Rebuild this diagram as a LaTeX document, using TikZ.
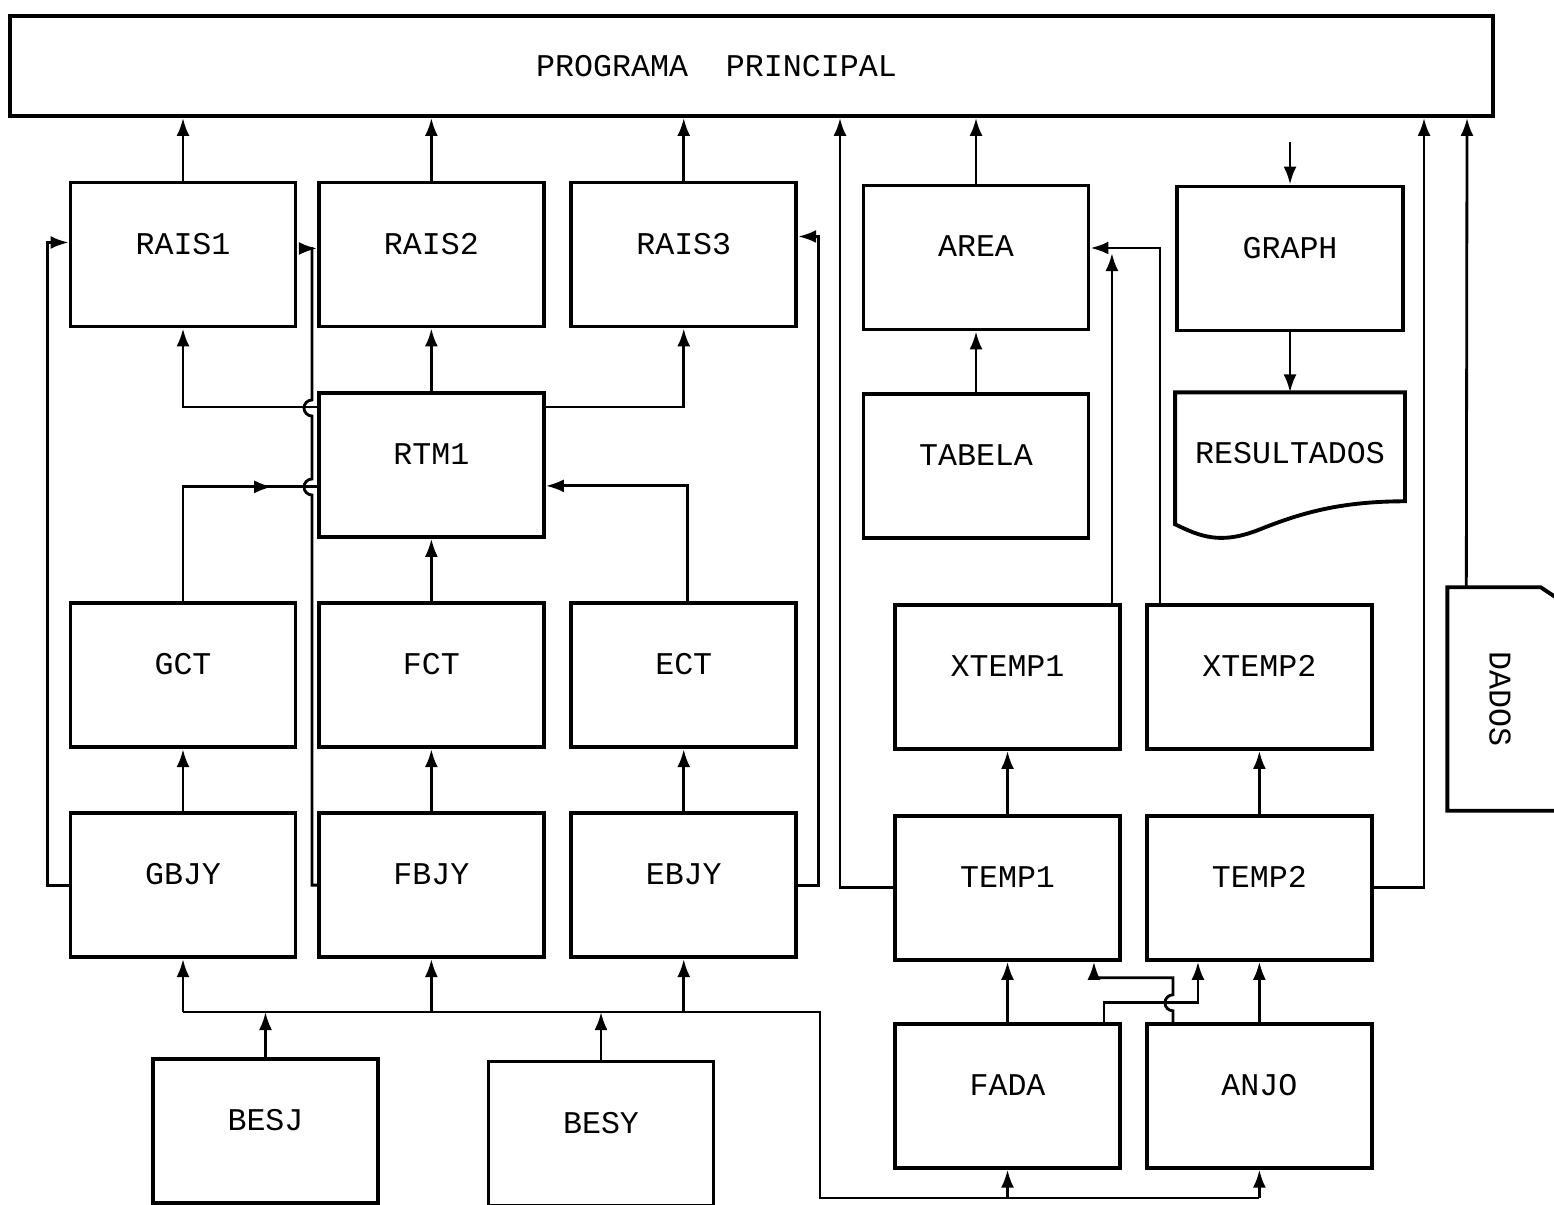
\documentclass[tikz,border=0pt]{standalone}
\usepackage{fontspec}
\setmonofont{Liberation Mono}
\usetikzlibrary{arrows.meta, positioning, decorations.markings}

\begin{document}
\begin{tikzpicture}[
    blk/.style={rectangle, draw, line width=1.1pt, minimum width=2.25cm,
                minimum height=1.44cm, text depth=0.22cm,
                font=\ttfamily\fontsize{9}{11}\selectfont},
    arr/.style={-{Latex[length=1.8mm, width=1.3mm]}, line width=0.8pt},
    wire/.style={line width=0.8pt},
    midarr/.style={wire, decoration={markings,
                   mark=at position #1 with {\arrow{Latex[length=1.8mm, width=1.3mm]}}},
                   postaction={decorate}}
  ]
    \useasboundingbox (0,0) rectangle (15.54,-12.05);

    % main program
    \node[blk, minimum width=14.83cm, minimum height=1.00cm, text depth=0pt] (pp) at (7.515,-0.66)
         {PROGRAMA\ \ PRINCIPAL\hspace*{0.7cm}};

    % left block
    \node[blk] (rais1) at (1.83,-2.545) {RAIS1};
    \node[blk, right=0.195cm of rais1] (rais2) {RAIS2};
    \node[blk, right=0.235cm of rais2] (rais3) {RAIS3};
    \node[blk, below=0.625cm of rais2] (rtm1) {RTM1};
    \node[blk, below=0.625cm of rtm1]  (fct)  {FCT};
    \node[blk, left=0.195cm of fct]    (gct)  {GCT};
    \node[blk, right=0.235cm of fct]   (ect)  {ECT};
    \node[blk, below=0.62cm of gct]    (gbjy) {GBJY};
    \node[blk, below=0.62cm of fct]    (fbjy) {FBJY};
    \node[blk, below=0.62cm of ect]    (ebjy) {EBJY};
    \node[blk] (besj) at (2.655,-11.31) {BESJ};
    \node[blk] (besy) at (6.01,-11.335) {BESY};

    % right block
    \node[blk] (area) at (9.76,-2.575) {AREA};
    \node[blk, below=0.61cm of area] (tabela) {TABELA};
    \node[blk, minimum width=2.26cm] (graph) at (12.90,-2.585) {GRAPH};
    \node[blk, draw=none, minimum width=2.26cm, minimum height=1.40cm,
          below=0.60cm of graph] (res) {RESULTADOS};
    \node[blk] (xtemp1) at (10.075,-6.77) {XTEMP1};
    \node[blk, right=0.23cm of xtemp1] (xtemp2) {XTEMP2};
    \node[blk, below=0.63cm of xtemp1] (temp1) {TEMP1};
    \node[blk, below=0.63cm of xtemp2] (temp2) {TEMP2};
    \node[blk, below=0.60cm of temp1]  (fada)  {FADA};
    \node[blk, below=0.60cm of temp2]  (anjo)  {ANJO};
    \node[minimum width=1.04cm, minimum height=2.22cm, font=\ttfamily\fontsize{9}{11}\selectfont]
         (dados) at (15.00,-6.99) {\rotatebox{-90}{DADOS}};

    % document and card outlines
    \draw[line width=1.1pt] (res.north west) -- (res.north east) -- ([yshift=0.35cm]res.south east)
        .. controls +(-0.65,0) and +(0.4,0.16) .. ([xshift=0.85cm, yshift=0.07cm]res.south west)
        .. controls +(-0.4,-0.16) and +(0.25,-0.12) .. ([yshift=0.12cm]res.south west) -- cycle;
    \draw[line width=1.1pt] (dados.south west) -- (dados.north west) -- ([xshift=-0.12cm]dados.north east)
        -- ([xshift=0.12cm, yshift=-0.16cm]dados.north east) -- ([xshift=0.12cm]dados.south east) -- cycle;

    % up to the main program
    \foreach \n in {rais1, rais2, rais3, area}
      \draw[arr] (\n.north) -- (\n.north |- pp.south);
    \draw[arr, shorten <=0.24cm] (graph.north |- pp.south) -- (graph.north);
    \draw[arr] (graph) -- (res);
    \draw[arr] (temp1.west) -| ([xshift=0.885cm]pp.south);
    \draw[arr] (temp2.east) -| ([xshift=6.725cm]pp.south);
    \draw[arr] ([xshift=0.19cm]dados.north west) -- ([xshift=7.155cm]pp.south);

    % straight links
    \draw[arr] (tabela) -- (area);
    \draw[arr] (rtm1) -- (rais2);
    \draw[arr] (fct) -- (rtm1);
    \draw[arr] (gbjy) -- (gct);
    \draw[arr] (fbjy) -- (fct);
    \draw[arr] (ebjy) -- (ect);
    \draw[arr] (temp1) -- (xtemp1);
    \draw[arr] (temp2) -- (xtemp2);
    \draw[arr] (fada) -- (temp1);
    \draw[arr] (anjo) -- (temp2);

    % around rtm1
    \draw[arr] ([yshift=-0.16cm]rtm1.north west) -| (rais1.south);
    \draw[arr] ([yshift=-0.16cm]rtm1.north east) -| (rais3.south);
    \draw[midarr=0.82] (gct.north) |- ([yshift=-0.22cm]rtm1.west);
    \draw[arr] ([xshift=0.04cm]ect.north) |- ([yshift=-0.21cm]rtm1.east);

    % side returns
    \draw[arr] (gbjy.west) -- ++(-0.21,0) |- ([yshift=0.12cm]rais1.west);
    \draw[arr] (ebjy.east) -- ++(0.20,0) |- ([yshift=0.18cm]rais3.east);
    \draw[arr] (fbjy.west) -| (3.12,-4.95) arc[start angle=-90, end angle=-270, radius=0.08]
        -- (3.12,-4.16) arc[start angle=-90, end angle=-270, radius=0.08]
        |- ([yshift=0.06cm]rais2.west);

    % xtemp to area
    \draw[arr] ([xshift=0.15cm]xtemp2.north west) |- ([yshift=0.095cm]area.east);
    \draw[arr] ([xshift=-0.10cm]xtemp1.north east) -- ++(0,3.50);

    % fada / anjo cross links
    \draw[arr] ([xshift=-0.18cm]fada.north east) -- ++(0,0.19) -| ([xshift=0.53cm]temp2.south west);
    \draw[arr] ([xshift=0.28cm]anjo.north west) -- ++(0,0.11)
        arc[start angle=-90, end angle=-270, radius=0.08] -- ++(0,0.17)
        -| ([xshift=-0.28cm]temp1.south east);

    % bus from besj and besy
    \coordinate (bus)  at (1.80,-10.12);
    \coordinate (busc) at (8.20,-10.12);
    \coordinate (busd) at (8.20,-11.98);
    \draw[wire] (gbjy.south |- bus) -- (busc) -- (busd) -- (busd -| anjo.south);
    \foreach \n in {gbjy, fbjy, ebjy}
      \draw[arr] (\n.south |- bus) -- (\n.south);
    \foreach \n in {fada, anjo}
      \draw[arr] (\n.south |- busd) -- (\n.south);
    \draw[arr] (besj) -- (besj.north |- bus);
    \draw[arr] (besy) -- (besy.north |- bus);
\end{tikzpicture}
\end{document}
